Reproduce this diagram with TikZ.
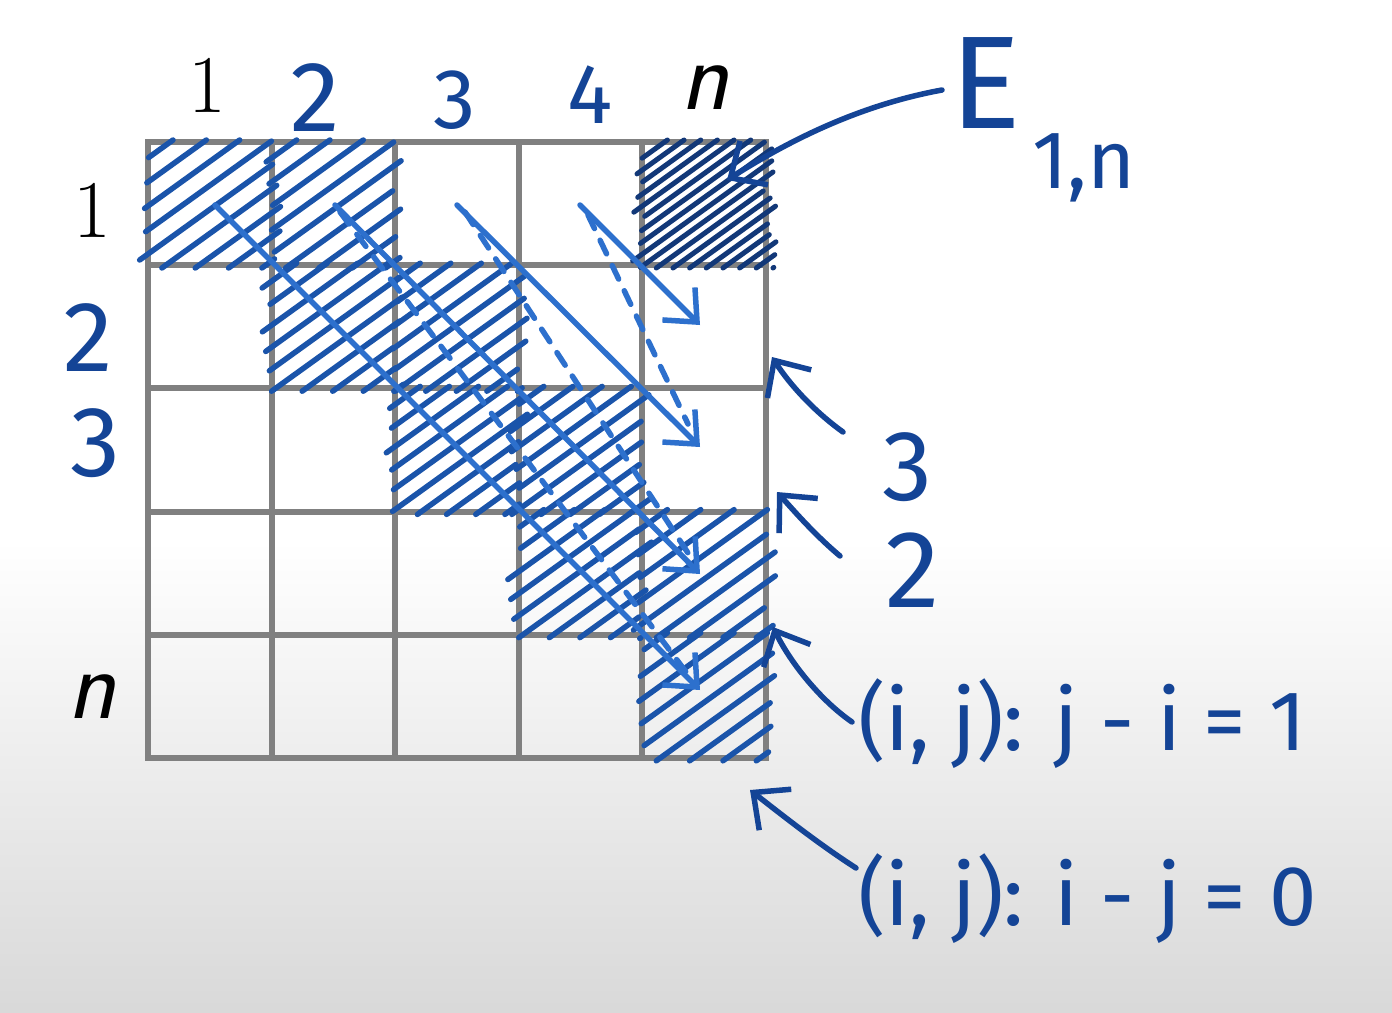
\documentclass[tikz,border=0pt]{standalone}
\usepackage{fontspec}
\newfontfamily\hand{Fira Sans}
\usetikzlibrary{arrows.meta}
\definecolor{ink}{RGB}{20,68,150}
\definecolor{arrowblue}{RGB}{45,112,205}
\definecolor{hatchblue}{RGB}{26,84,170}
\definecolor{darkhatch}{RGB}{18,56,120}
\definecolor{gridgray}{RGB}{128,128,128}
\newcommand\hatchcell[4]{% col, row, style, step
  \begin{scope}[shift={({148+(#1-1)*123.6},{142+(#2-1)*123.2})}]
    \foreach \c in {16,#4,...,220}{
      \pgfmathsetmacro\ja{rand*7}
      \pgfmathsetmacro\jb{rand*7}
      \pgfmathsetmacro\xa{max(-4+\ja,(\c-126)/0.72)}
      \pgfmathsetmacro\xb{min(127+\jb,(\c+2)/0.72)}
      \draw[#3] (\xa,{\c-0.72*\xa}) -- (\xb,{\c-0.72*\xb});
    }
  \end{scope}}
\begin{document}
\begin{tikzpicture}[x=1pt,y=-1pt,line cap=round,line join=round,
  gridline/.style={line width=6pt,draw=gridgray,line cap=rect},
  hatch/.style={line width=5.5pt,draw=hatchblue},
  dhatch/.style={line width=5pt,draw=darkhatch},
  solidarrow/.style={line width=5.5pt,draw=arrowblue,-{Straight Barb[length=26pt,width=46pt]}},
  dasharrow/.style={line width=5.5pt,draw=arrowblue,dash pattern=on 15pt off 13pt},
  handarrow/.style={line width=5.5pt,draw=ink,-{Straight Barb[length=28pt,width=52pt]}},
  handtext/.style={text=ink,font=\hand\fontsize{100}{110}\selectfont,inner sep=0pt},
  serifnum/.style={text=black,font=\fontsize{82}{90}\selectfont,inner sep=0pt},
  italn/.style={text=black,font=\sffamily\itshape\fontsize{100}{110}\selectfont,inner sep=0pt}]
\pgfmathsetseed{11}
\useasboundingbox (0,0) rectangle (1392,1012);
\fill[white] (0,0) rectangle (1392,541);
\shade[top color=white,bottom color=black!15] (0,540) rectangle (1392,1012);

% grid
\foreach \i in {0,...,5}{
  \draw[gridline] ({148+\i*123.6},142) -- ({148+\i*123.6},758);
  \draw[gridline] (148,{142+\i*123.2}) -- (766,{142+\i*123.2});
}

% hatching
\hatchcell{1}{1}{hatch}{40}
\hatchcell{2}{1}{hatch}{40}
\hatchcell{2}{2}{hatch}{38}
\hatchcell{3}{2}{hatch}{38}
\hatchcell{3}{3}{hatch}{37}
\hatchcell{4}{3}{hatch}{37}
\hatchcell{4}{4}{hatch}{38}
\hatchcell{5}{4}{hatch}{40}
\hatchcell{5}{5}{hatch}{40}
\hatchcell{5}{1}{dhatch}{28}

% diagonal arrows
\coordinate (s1a) at (215,205); \coordinate (s1b) at (700,690);
\coordinate (s2a) at (335,205); \coordinate (s2b) at (700,574);
\coordinate (s3a) at (457,205); \coordinate (s3b) at (700,447);
\coordinate (s4a) at (580,205); \coordinate (s4b) at (700,325);
\coordinate (d1a) at (340,212); \coordinate (d1b) at (686,672);
\coordinate (d2a) at (465,212); \coordinate (d2b) at (688,553);
\coordinate (d3a) at (588,215); \coordinate (d3b) at (688,424);
\draw[solidarrow] (s1a) -- (s1b);
\draw[solidarrow] (s2a) -- (s2b);
\draw[solidarrow] (s3a) -- (s3b);
\draw[solidarrow] (s4a) -- (s4b);
\draw[dasharrow] (d1a) -- (d1b);
\draw[dasharrow] (d2a) -- (d2b);
\draw[dasharrow] (d3a) -- (d3b);

% header labels
\node[serifnum] (c1) at (207,85) {1};
\node[handtext] (c2) at (315,98) {2};
\node[handtext,font=\hand\fontsize{85}{95}\selectfont] (c3) at (455,100) {3};
\node[handtext,font=\hand\fontsize{85}{95}\selectfont] (c4) at (590,95) {4};
\node[italn] (cn) at (705,88) {n};
\node[serifnum] (r1) at (92,210) {1};
\node[handtext] (r2) at (88,338) {2};
\node[handtext] (r3) at (95,443) {3};
\node[italn] (rn) at (92,697) {n};

% E_{1,n}
\node[handtext,font=\hand\fontsize{132}{140}\selectfont,anchor=base west] (E) at (950,128) {E};
\node[handtext,font=\hand\fontsize{82}{95}\selectfont,anchor=base west] (sub) at (1032,188) {1,n};
\coordinate (etail) at (942,90); \coordinate (etip) at (727,180);
\draw[handarrow] (etail) .. controls (860,105) and (790,140) .. (etip);

% right labels
\node[handtext] (n3) at (907,467) {3};
\node[handtext,font=\hand\fontsize{110}{120}\selectfont] (n2) at (913,570) {2};
\coordinate (a3t) at (843,432); \coordinate (a3h) at (772,357);
\draw[handarrow] (a3t) .. controls (815,412) and (790,385) .. (a3h);
\coordinate (a2t) at (840,556); \coordinate (a2h) at (777,492);
\draw[handarrow] (a2t) .. controls (815,535) and (795,512) .. (a2h);

\node[handtext,font=\hand\fontsize{85}{95}\selectfont,anchor=base west] (lab1) at (858,750) {(i, j): j - i = 1};
\node[handtext,font=\hand\fontsize{85}{95}\selectfont,anchor=base west] (lab2) at (858,925) {(i, j): i - j = 0};
\coordinate (l1t) at (852,722); \coordinate (l1h) at (773,627);
\draw[handarrow] (l1t) .. controls (820,700) and (790,662) .. (l1h);
\coordinate (l2t) at (856,868); \coordinate (l2h) at (750,790);
\draw[handarrow] (l2t) .. controls (820,845) and (782,815) .. (l2h);
\end{tikzpicture}
\end{document}
